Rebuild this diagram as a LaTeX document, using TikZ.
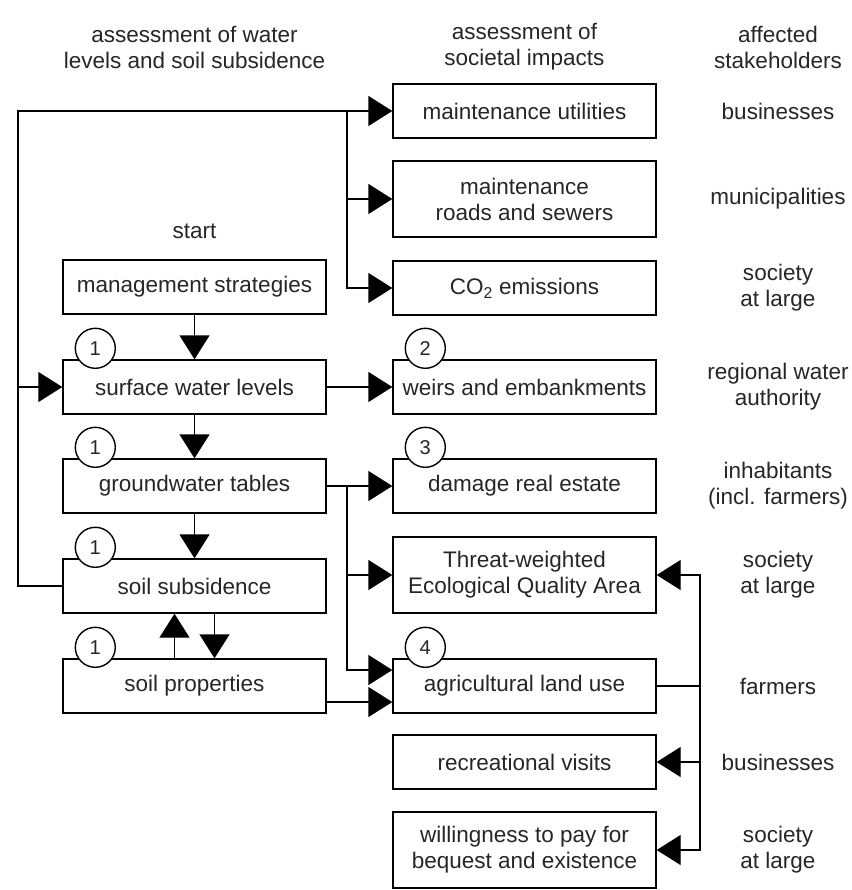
\documentclass[tikz,border=0pt]{standalone}
\usepackage{fontspec}
\setmainfont{Liberation Sans}
\usepackage{tikz}
\usetikzlibrary{arrows.meta}
\tikzstyle{block}=[draw,line width=1.4pt,minimum width=263pt,minimum height=54pt,inner sep=0pt,align=center,text=black!85,font=\fontsize{22.5}{26}\selectfont]
\tikzstyle{tallblock}=[block,minimum height=76pt]
\tikzstyle{num}=[circle,draw,fill=white,line width=1.4pt,minimum size=40pt,inner sep=0pt,text=black!85,font=\fontsize{20}{24}\selectfont]
\tikzstyle{txt}=[align=center,inner sep=0pt,text=black!85,font=\fontsize{22.5}{26}\selectfont]
\tikzstyle{arr}=[-{Triangle[length=24pt,width=30pt]},line width=1.4pt]

\begin{document}
\begin{tikzpicture}[x=1pt,y=-1pt]
          \useasboundingbox (0,0) rectangle (851,890);

          \node[txt] at (194.5, 47) (hdwater) {assessment of water\\levels and soil subsidence};
          \node[txt] at (524.5, 47) (hdimpact) {assessment of\\societal impacts};
          \node[txt] at (778, 47) (hdstake) {affected\\stakeholders};
          \node[txt] at (194.5, 231) (start) {start};

          \node[block] at (194.5, 287) (mgmt) {management strategies};
          \node[block] at (194.5, 387) (surf) {surface water levels};
          \node[block] at (194.5, 486) (gw) {groundwater tables};
          \node[block] at (194.5, 586) (subs) {soil subsidence};
          \node[block] at (194.5, 686) (props) {soil properties};

          \node[block] at (524.5, 111) (util) {maintenance utilities};
          \node[tallblock] at (524.5, 199) (roads) {maintenance\\roads and sewers};
          \node[block] at (524.5, 288) (co2) {CO\textsubscript{2} emissions};
          \node[block] at (524.5, 387) (weirs) {weirs and embankments};
          \node[block] at (524.5, 486) (dmg) {damage real estate};
          \node[tallblock] at (524.5, 575) (eco) {Threat-weighted\\Ecological Quality Area};
          \node[block] at (524.5, 686) (agri) {agricultural land use};
          \node[block] at (524.5, 762) (recr) {recreational visits};
          \node[tallblock] at (524.5, 850) (wtp) {willingness to pay for\\bequest and existence};

          \node[txt] at (778, 111) (sbus) {businesses};
          \node[txt] at (778, 199) (smun) {municipalities};
          \node[txt] at (778, 288) (ssoc) {society\\at large};
          \node[txt] at (778, 387) (swat) {regional water\\authority};
          \node[txt] at (778, 486) (sinh) {inhabitants\\(incl. farmers)};
          \node[txt] at (778, 575) (ssoc2) {society\\at large};
          \node[txt] at (778, 686) (sfarm) {farmers};
          \node[txt] at (778, 762) (sbus2) {businesses};
          \node[txt] at (778, 850) (ssoc3) {society\\at large};

          \coordinate (lx) at (18, 0);
          \coordinate (bx) at (347, 0);
          \coordinate (rx) at (700, 0);

          \draw[arr] (mgmt) -- (surf);
          \draw[arr] (surf) -- (gw);
          \draw[arr] (gw) -- (subs);
          \draw[arr] (surf) -- (weirs);
          \draw[arr] (gw) -- (dmg);
          \draw[arr] (subs.west) -| (lx |- util.west) -- (util.west);
          \draw[arr] (lx |- surf.west) -- (surf.west);
          \draw[arr] (bx |- util.west) |- (roads.west);
          \draw[arr] (bx |- util.west) |- (co2.west);
          \draw[arr] (bx |- gw.east) |- (eco.west);
          \draw[arr] (bx |- gw.east) |- ([yshift=16pt]agri.west);
          \draw[arr] ([yshift=-16pt]props.east) -- ([yshift=-16pt]agri.west);
          \draw[arr] ([xshift=-20pt]props.north) -- ([xshift=-20pt]subs.south);
          \draw[arr] ([xshift=20pt]subs.south) -- ([xshift=20pt]props.north);
          \draw[line width=1.4pt] (agri.east) -- (rx |- agri.east);
          \draw[arr] (rx |- agri.east) |- (eco.east);
          \draw[arr] (rx |- agri.east) |- (recr.east);
          \draw[arr] (rx |- agri.east) |- (wtp.east);

          \node[num] at ([shift={(33pt,11pt)}]surf.north west) (c1) {1};
          \node[num] at ([shift={(33pt,11pt)}]gw.north west) (c2) {1};
          \node[num] at ([shift={(33pt,11pt)}]subs.north west) (c3) {1};
          \node[num] at ([shift={(33pt,11pt)}]props.north west) (c4) {1};
          \node[num] at ([shift={(33pt,11pt)}]weirs.north west) (c5) {2};
          \node[num] at ([shift={(33pt,11pt)}]dmg.north west) (c6) {3};
          \node[num] at ([shift={(33pt,11pt)}]agri.north west) (c7) {4};
        \end{tikzpicture}
\end{document}
